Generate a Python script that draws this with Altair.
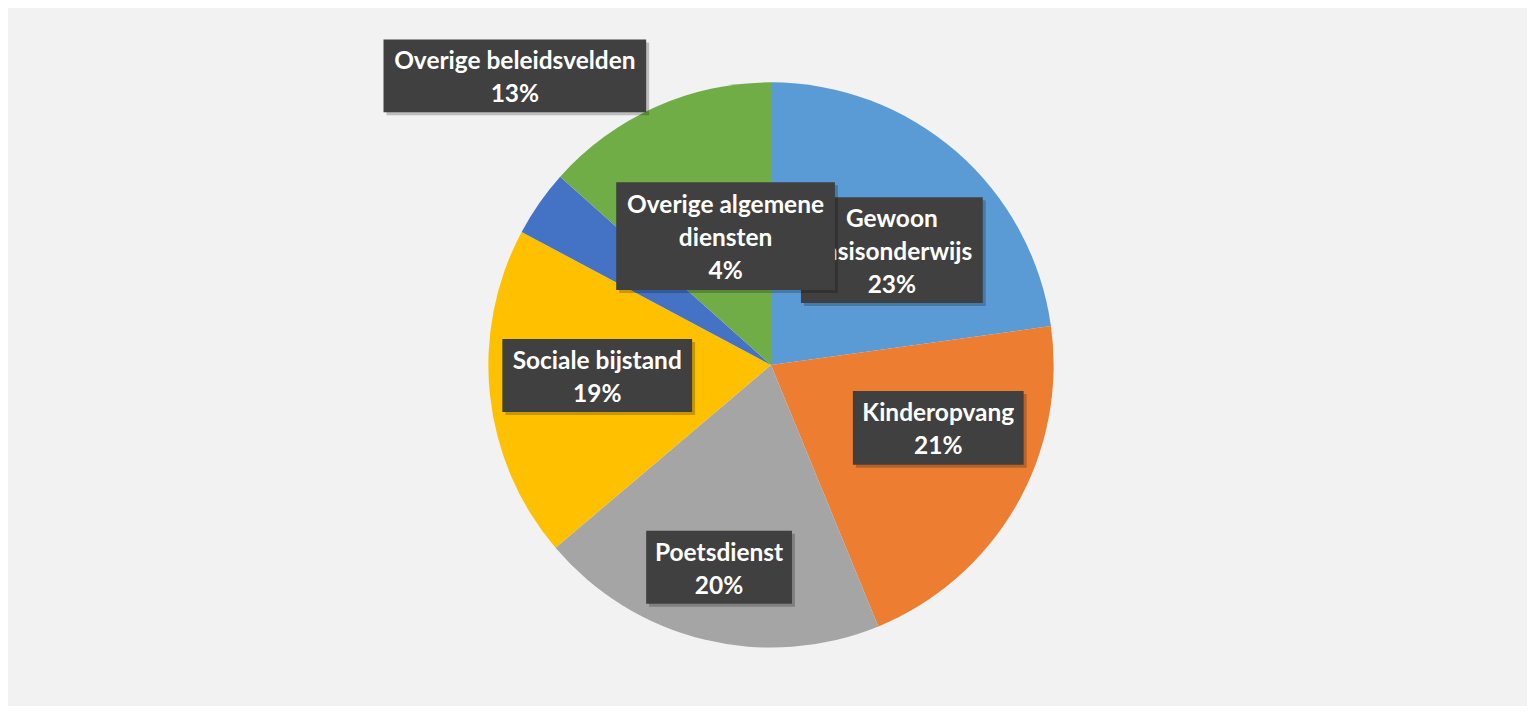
import altair as alt
import pandas as pd

# ---- data ----
categories = ["Gewoon basisonderwijs", "Kinderopvang", "Poetsdienst",
              "Sociale bijstand", "Overige algemene diensten", "Overige beleidsvelden"]
shares = [22.8, 21.0, 20.0, 19.0, 3.8, 13.4]
label_lines = [["Gewoon", "basisonderwijs"], ["Kinderopvang"], ["Poetsdienst"],
               ["Sociale bijstand"], ["Overige algemene", "diensten"], ["Overige beleidsvelden"]]
colors = ["#5B9BD5", "#ED7D31", "#A5A5A5", "#FFC000", "#4472C4", "#70AD47"]

# ---- layout (pixels, chart coordinates) ----
W, H = 1521, 698
CX, CY, R = 764, 357, 283
box_cx = [885, 931.5, 712, 590, 718.5, 507.5]
box_cy = [242, 420, 559.5, 367.5, 228, 67.5]
box_w = [182, 171, 146, 190, 219, 263]
box_h = [106, 74, 73, 73, 108, 73]
draw_order = [5, 1, 2, 3, 0, 4]
LINE_H = 33

pie_df = pd.DataFrame({"category": categories, "share": shares, "idx": list(range(len(shares)))})

texts = ["\n".join(l + [f"{round(v)}%"]) for l, v in zip(label_lines, shares)]
lab_df = pd.DataFrame({
    "category": categories, "text": texts,
    "cx": box_cx, "cy": box_cy, "w": box_w, "h": box_h,
})
lab_df["x0"] = lab_df.cx - lab_df.w / 2
lab_df["x1"] = lab_df.cx + lab_df.w / 2
lab_df["y0"] = lab_df.cy - lab_df.h / 2
lab_df["y1"] = lab_df.cy + lab_df.h / 2
lab_df["sx0"] = lab_df.x0 + 3
lab_df["sx1"] = lab_df.x1 + 3
lab_df["sy0"] = lab_df.y0 + 3
lab_df["sy1"] = lab_df.y1 + 3

xs = alt.Scale(domain=[0, W], nice=False, zero=False)
ys = alt.Scale(domain=[0, H], nice=False, zero=False, reverse=True)

pie = alt.Chart(pie_df).mark_arc(radius=R).encode(
    theta=alt.Theta("share:Q", stack=True),
    order=alt.Order("idx:Q"),
    color=alt.Color("category:N", scale=alt.Scale(domain=categories, range=colors), legend=None),
    x=alt.value(CX),
    y=alt.value(CY),
)

layers = [pie]
for i in draw_order:
    n_lines = texts[i].count("\n") + 1
    base = alt.Chart(lab_df).transform_filter(alt.datum.category == categories[i])
    shadow = base.mark_rect(color="#000000", opacity=0.22).encode(
        x=alt.X("sx0:Q", scale=xs, axis=None), x2="sx1:Q",
        y=alt.Y("sy0:Q", scale=ys, axis=None), y2="sy1:Q",
    )
    box = base.mark_rect(color="#404040").encode(
        x=alt.X("x0:Q", scale=xs, axis=None), x2="x1:Q",
        y=alt.Y("y0:Q", scale=ys, axis=None), y2="y1:Q",
    )
    txt = base.mark_text(
        font="Lato", fontWeight="bold", fontSize=24.5, color="white",
        lineBreak="\n", lineHeight=LINE_H, align="center", baseline="middle",
        dy=-(n_lines - 1) * LINE_H / 2 + 3,
    ).encode(
        x=alt.X("cx:Q", scale=xs, axis=None),
        y=alt.Y("cy:Q", scale=ys, axis=None),
        text="text:N",
    )
    layers += [shadow, box, txt]

chart = alt.layer(*layers).properties(
    width=W, height=H, background="#F2F2F2", padding=0,
    autosize=alt.AutoSizeParams(type="fit", contains="padding"),
).configure_view(stroke=None)

chart.save("out.html", embed_options={"renderer": "svg", "actions": False})
